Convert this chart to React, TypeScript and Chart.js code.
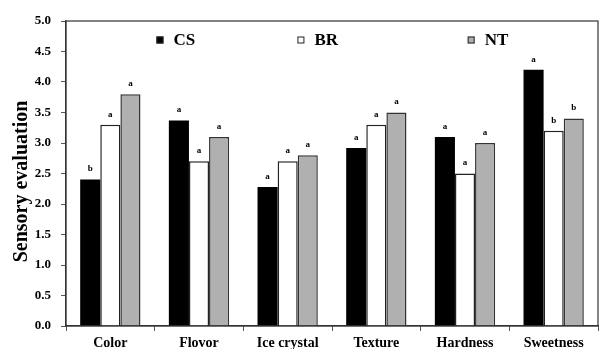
import React, { useEffect, useRef } from "react";
import { Chart, registerables } from "chart.js";

Chart.register(...registerables);

const categories = ["Color", "Flovor", "Ice crystal", "Texture", "Hardness", "Sweetness"];
const seriesNames = ["CS", "BR", "NT"];
const csValues = [2.4, 3.37, 2.28, 2.92, 3.1, 4.2];
const brValues = [3.3, 2.7, 2.7, 3.3, 2.5, 3.2];
const ntValues = [3.8, 3.1, 2.8, 3.5, 3.0, 3.4];
const csLetters = ["b", "a", "a", "a", "a", "a"];
const brLetters = ["a", "a", "a", "a", "a", "b"];
const ntLetters = ["a", "a", "a", "a", "a", "b"];
const yTicks = [0, 0.5, 1, 1.5, 2, 2.5, 3, 3.5, 4, 4.5, 5];
const yTitle = "Sensory evaluation";

const FONT = "'Liberation Serif', 'Times New Roman', serif";

const fills = ["#000000", "#ffffff", "#b0b0b0"];
const borders = ["#000000", "#222222", "#333333"];
const letters = [csLetters, brLetters, ntLetters];

const framePlugin = {
  id: "frame",
  afterDraw(chart: any) {
    const { ctx, chartArea } = chart;
    ctx.save();
    ctx.strokeStyle = "#333";
    ctx.lineWidth = 1.2;
    ctx.strokeRect(chartArea.left, chartArea.top, chartArea.right - chartArea.left, chartArea.bottom - chartArea.top);
    ctx.restore();
  },
};

const titlePlugin = {
  id: "yTitle",
  afterDraw(chart: any) {
    const { ctx, chartArea } = chart;
    ctx.save();
    ctx.translate(22, (chartArea.top + chartArea.bottom) / 2 + 8);
    ctx.rotate(-Math.PI / 2);
    ctx.font = `bold 20px ${FONT}`;
    ctx.fillStyle = "#000";
    ctx.textAlign = "center";
    ctx.textBaseline = "middle";
    ctx.fillText(yTitle, 0, 0);
    ctx.restore();
  },
};

const lettersPlugin = {
  id: "letters",
  afterDatasetsDraw(chart: any) {
    const { ctx } = chart;
    ctx.save();
    ctx.fillStyle = "#000";
    ctx.font = `bold 9px ${FONT}`;
    ctx.textAlign = "center";
    ctx.textBaseline = "bottom";
    chart.data.datasets.forEach((ds: any, di: number) => {
      const meta = chart.getDatasetMeta(di);
      meta.data.forEach((bar: any, i: number) => {
        ctx.fillText(letters[di][i], bar.x, bar.y - 6);
      });
    });
    ctx.restore();
  },
};

const legendPlugin = {
  id: "customLegend",
  afterDraw(chart: any) {
    const { ctx, chartArea } = chart;
    const w = chartArea.right - chartArea.left;
    const fracs = [0.17, 0.435, 0.755];
    ctx.save();
    ctx.font = `bold 17px ${FONT}`;
    ctx.textBaseline = "middle";
    ctx.textAlign = "left";
    const y = chartArea.top + 19;
    seriesNames.forEach((name, i) => {
      const x = chartArea.left + w * fracs[i];
      ctx.fillStyle = fills[i];
      ctx.fillRect(x, y - 3.5, 7, 7);
      ctx.strokeStyle = "#222";
      ctx.lineWidth = 1;
      ctx.strokeRect(x + 0.5, y - 3, 6, 6);
      ctx.fillStyle = "#000";
      ctx.fillText(name, x + 17, y + 1);
    });
    ctx.restore();
  },
};

export default function App() {
  const ref = useRef<HTMLCanvasElement>(null);
  useEffect(() => {
    document.body.style.margin = "0";
    const chart = new Chart(ref.current!, {
      type: "bar",
      data: {
        labels: categories,
        datasets: [csValues, brValues, ntValues].map((vals, i) => ({
          label: seriesNames[i],
          data: vals,
          backgroundColor: fills[i],
          borderColor: borders[i],
          borderWidth: i === 0 ? 0 : 1.5,
          categoryPercentage: 0.68,
          barPercentage: 1.0,
        })),
      },
      options: {
        responsive: false,
        animation: false,
        layout: { padding: { top: 21, right: 2, left: 0, bottom: 0 } },
        plugins: { legend: { display: false }, tooltip: { enabled: false } },
        scales: {
          x: {
            grid: { display: true, drawOnChartArea: false, drawTicks: true, tickLength: 5, color: "#555" },
            border: { display: true, color: "#333", width: 1.2 },
            ticks: { color: "#000", font: { family: FONT, size: 14, weight: "bold" }, padding: 4, maxRotation: 0 },
            afterFit: (s: any) => { s.height = 23; },
          },
          y: {
            min: 0,
            max: 5,
            afterBuildTicks: (s: any) => { s.ticks = yTicks.map((v) => ({ value: v })); },
            grid: { display: true, drawOnChartArea: false, drawTicks: true, tickLength: 5, color: "#555" },
            border: { display: true, color: "#333", width: 1.2 },
            ticks: {
              color: "#000",
              font: { family: FONT, size: 13, weight: "bold" },
              padding: 10,
              callback: (v: any) => Number(v).toFixed(1),
            },
            afterFit: (s: any) => { s.width = 66; },
          },
        },
      } as any,
      plugins: [framePlugin, lettersPlugin, legendPlugin, titlePlugin],
    });
    return () => chart.destroy();
  }, []);
  return (
    <div style={{ width: 600, height: 349 }}>
      <canvas ref={ref} width={600} height={349} />
    </div>
  );
}
